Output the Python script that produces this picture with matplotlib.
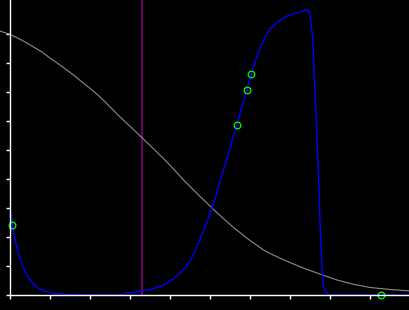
import numpy as np
import matplotlib
matplotlib.use("Agg")
import matplotlib.pyplot as plt

# gray decreasing curve
gray_x = [-0.25, 0.00, 0.29, 0.58, 0.80, 1.00, 1.21, 1.42, 1.63, 1.83, 2.04,
          2.25, 2.50, 2.75, 3.03, 3.31, 3.62, 3.92, 4.13, 4.33, 4.54, 4.75,
          5.05, 5.30, 5.58, 5.95, 6.33, 6.55, 6.75, 7.05, 7.33, 7.75, 8.17,
          8.58, 9.00, 9.50, 10.0]
gray_y = [9.10, 8.99, 8.79, 8.56, 8.38, 8.17, 7.97, 7.76, 7.54, 7.31, 7.08,
          6.83, 6.49, 6.14, 5.78, 5.41, 5.00, 4.59, 4.28, 3.98, 3.69, 3.40,
          3.00, 2.68, 2.34, 1.93, 1.56, 1.40, 1.27, 1.09, 0.93, 0.72, 0.52,
          0.37, 0.26, 0.19, 0.14]

# blue curve
blue_x = [0.02, 0.06, 0.125, 0.21, 0.325, 0.41, 0.50, 0.60, 0.70, 0.85, 1.00,
          1.20, 1.42, 2.125, 2.80, 2.93, 3.13, 3.33, 3.48, 3.63, 3.76, 3.88,
          3.98, 4.08, 4.17, 4.25, 4.38, 4.50, 4.62, 4.73, 4.83, 4.93, 5.05,
          5.15, 5.25, 5.45, 5.67, 5.92, 6.03, 6.12, 6.20, 6.32, 6.43, 6.53,
          6.63, 6.73, 6.83, 6.94, 7.05, 7.15, 7.25, 7.33, 7.40, 7.45, 7.48,
          7.52, 7.57, 7.61, 7.65, 7.69, 7.725, 7.75, 7.775, 7.81, 7.83, 7.87,
          7.90, 7.95, 8.00, 10.0]
blue_y = [2.83, 2.41, 1.90, 1.45, 0.97, 0.72, 0.52, 0.36, 0.24, 0.14, 0.08,
          0.04, 0.02, 0.0, 0.0, 0.07, 0.10, 0.14, 0.18, 0.24, 0.30, 0.38,
          0.46, 0.55, 0.65, 0.76, 0.94, 1.17, 1.48, 1.86, 2.18, 2.52, 3.00,
          3.44, 3.90, 4.83, 5.86, 7.07, 7.62, 8.00, 8.34, 8.72, 9.03, 9.22,
          9.34, 9.45, 9.55, 9.63, 9.69, 9.73, 9.76, 9.80, 9.83, 9.82, 9.76,
          9.48, 8.79, 7.41, 6.28, 4.86, 3.69, 2.55, 1.62, 0.79, 0.34, 0.17,
          0.09, 0.03, 0.0, 0.0]

# sample points
pts_x = [0.06, 5.67, 5.92, 6.03, 9.28]
pts_y = [2.41, 5.86, 7.07, 7.62, 0.0]

vline_x = 3.31

fig = plt.figure(figsize=(4.1, 3.1), dpi=100, facecolor="black")
ax = fig.add_axes([10 / 410, 15 / 310, 400 / 410, 295 / 310])
ax.set_facecolor("black")

ax.axvline(vline_x, color="#800080", lw=1.2)
ax.plot(gray_x, gray_y, color="#8c8c8c", lw=0.8, clip_on=False)
ax.plot(blue_x, blue_y, color="#0000ff", lw=1.0, clip_on=False)
ax.plot(pts_x, pts_y, "o", mfc="none", mec="#00ff00", ms=4.8, mew=0.9,
        clip_on=False)

ax.set_xlim(0, 10)
ax.set_ylim(0, 295 / 29)
ax.set_xticks(np.arange(0, 10))
ax.set_yticks(np.arange(0, 10))
ax.set_xticklabels([])
ax.set_yticklabels([])
ax.tick_params(colors="white", length=3, width=1, direction="out")
for side in ["top", "right"]:
    ax.spines[side].set_visible(False)
for side in ["left", "bottom"]:
    ax.spines[side].set_color("white")
    ax.spines[side].set_linewidth(1)

fig.savefig("out.png", dpi=100, facecolor="black")
